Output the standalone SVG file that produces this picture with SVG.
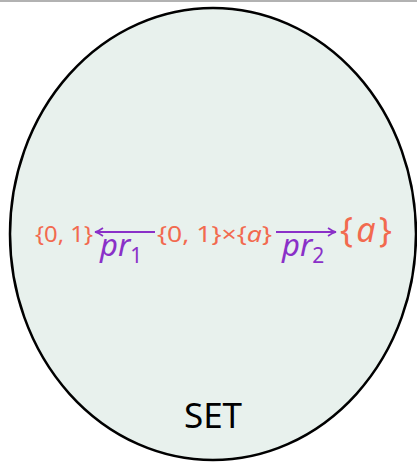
<svg xmlns="http://www.w3.org/2000/svg" width="417" height="462" viewBox="0 0 417 462">
<style>
.o{fill:#f26a4f;font-family:"Noto Sans","DejaVu Sans",sans-serif}
.p{fill:#8a30c8;font-family:"Noto Sans","DejaVu Sans",sans-serif;font-style:italic}
.a{stroke:#8a30c8;stroke-width:2;fill:none}
</style>
<defs>
<marker id="ah" viewBox="0 0 10 10" refX="9" refY="5" markerWidth="10" markerHeight="10" markerUnits="userSpaceOnUse" orient="auto">
<path d="M1,1 Q5,4 9,5 Q5,6 1,9" fill="none" stroke="#8a30c8" stroke-width="1.6"/>
</marker>
</defs>
<rect width="417" height="462" fill="#fff"/>
<line x1="0" y1="1" x2="417" y2="1" stroke="#999" stroke-width="1.5"/>
<g id="set">
<ellipse cx="213" cy="234" rx="203" ry="226" fill="#e8f1ed" stroke="#000" stroke-width="2.5"/>
<text x="213" y="428" text-anchor="middle" font-family="'Noto Sans','DejaVu Sans',sans-serif" font-size="35" fill="#000">SET</text>
</g>
<g id="n01"><text class="o" x="35" y="242" font-size="22" textLength="58" lengthAdjust="spacingAndGlyphs">{0, 1}</text></g>
<g id="prod"><text class="o" x="157" y="242" font-size="22" textLength="115" lengthAdjust="spacingAndGlyphs">{0, 1}×{<tspan font-style="italic">a</tspan>}</text></g>
<g id="na"><text class="o" x="340" y="242" font-size="34" textLength="52" lengthAdjust="spacing">{<tspan font-style="italic">a</tspan>}</text></g>
<g id="connectors">
<line class="a" x1="155" y1="232" x2="95" y2="232" marker-end="url(#ah)"/>
<line class="a" x1="276" y1="232" x2="336" y2="232" marker-end="url(#ah)"/>
<text class="p" x="100" y="256" font-size="31">pr<tspan font-style="normal" font-size="21" dy="7">1</tspan></text>
<text class="p" x="282" y="256" font-size="31">pr<tspan font-style="normal" font-size="21" dy="7">2</tspan></text>
</g>
</svg>
